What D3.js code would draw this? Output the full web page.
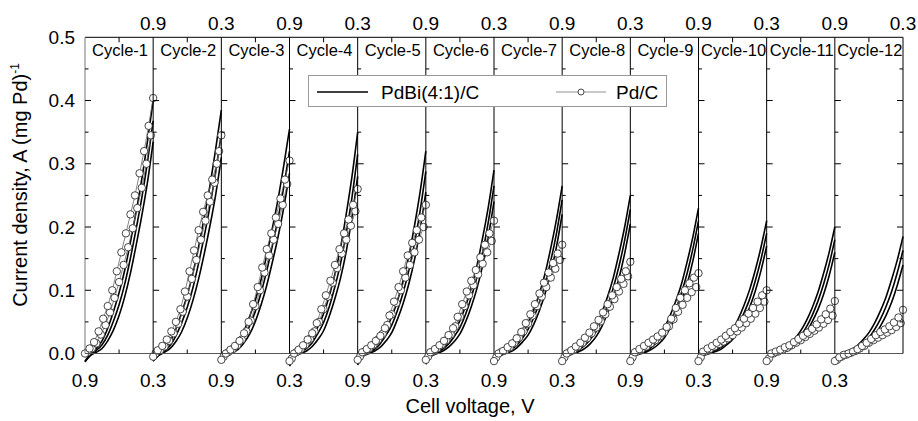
<!DOCTYPE html>
<html><head><meta charset="utf-8">
<script src="https://cdn.jsdelivr.net/npm/d3@7/dist/d3.min.js"></script>
<style>
body{margin:0;background:#fff;}
text{font-family:Arial,"Liberation Sans",sans-serif;fill:#000;}
</style></head>
<body><svg id="chart" width="918" height="421"></svg>
<script>
// ---------------- data ----------------
const cycles = ["Cycle-1","Cycle-2","Cycle-3","Cycle-4","Cycle-5","Cycle-6","Cycle-7","Cycle-8","Cycle-9","Cycle-10","Cycle-11","Cycle-12"];
const bottomTickLabels = ["0.9","0.3","0.9","0.3","0.9","0.3","0.9","0.3","0.9","0.3","0.9","0.3"]; // at panel boundaries 0..11
const topTickLabels    = ["0.9","0.3","0.9","0.3","0.9","0.3","0.9","0.3","0.9","0.3","0.9","0.3"]; // at panel boundaries 1..12
const yTickValues = [0.0,0.1,0.2,0.3,0.4,0.5];
const seriesNames = ["PdBi(4:1)/C","Pd/C"];

// PdBi(4:1)/C curves, voltages for each value
const pdbiVolts = [0.90,0.85,0.80,0.75,0.70,0.65,0.60,0.55,0.50,0.45,0.40,0.35,0.30];
const pdbiUpper = [
 [-0.012,0,0.008,0.020,0.040,0.066,0.096,0.132,0.176,0.224,0.276,0.336,0.400],
 [-0.012,0,0.008,0.019,0.039,0.064,0.092,0.127,0.169,0.216,0.266,0.323,0.385],
 [-0.011,0,0.007,0.018,0.036,0.059,0.085,0.117,0.156,0.199,0.245,0.298,0.355],
 [-0.018,0,0.005,0.012,0.025,0.042,0.063,0.091,0.126,0.168,0.221,0.280,0.350],
 [-0.016,0,0.005,0.011,0.022,0.038,0.058,0.083,0.115,0.154,0.202,0.256,0.320],
 [-0.015,0,0.004,0.010,0.020,0.035,0.052,0.075,0.104,0.139,0.183,0.232,0.290],
 [-0.013,0,0.004,0.009,0.019,0.032,0.048,0.069,0.095,0.127,0.167,0.212,0.265],
 [-0.013,0,0.004,0.009,0.018,0.030,0.045,0.065,0.090,0.120,0.158,0.200,0.250],
 [-0.012,0,0.003,0.008,0.016,0.028,0.041,0.060,0.083,0.110,0.145,0.184,0.230],
 [-0.011,0,0.003,0.007,0.015,0.025,0.038,0.055,0.076,0.101,0.132,0.168,0.210],
 [-0.010,0,0.003,0.007,0.014,0.024,0.036,0.052,0.072,0.096,0.126,0.160,0.200],
 [-0.009,0,0.003,0.006,0.013,0.022,0.033,0.048,0.067,0.089,0.117,0.148,0.185]
];
const pdbiMiddle = [
 [-0.013,-0.002,0.005,0.014,0.029,0.051,0.077,0.110,0.151,0.197,0.246,0.303,0.368],
 [-0.012,-0.002,0.004,0.013,0.028,0.048,0.073,0.104,0.143,0.186,0.233,0.287,0.348],
 [-0.011,-0.002,0.004,0.012,0.026,0.044,0.067,0.096,0.131,0.171,0.214,0.264,0.320],
 [-0.019,-0.002,0.002,0.008,0.017,0.032,0.049,0.074,0.106,0.143,0.191,0.247,0.315],
 [-0.017,-0.002,0.002,0.007,0.016,0.029,0.045,0.068,0.096,0.131,0.174,0.226,0.288],
 [-0.016,-0.002,0.002,0.007,0.015,0.027,0.041,0.062,0.089,0.121,0.160,0.208,0.265],
 [-0.015,-0.002,0.002,0.006,0.013,0.024,0.038,0.057,0.081,0.110,0.147,0.190,0.243],
 [-0.014,-0.002,0.002,0.006,0.013,0.023,0.035,0.053,0.076,0.104,0.138,0.179,0.228],
 [-0.013,-0.002,0.002,0.005,0.012,0.021,0.033,0.049,0.070,0.096,0.127,0.165,0.210],
 [-0.011,-0.001,0.001,0.005,0.010,0.019,0.029,0.045,0.064,0.086,0.115,0.149,0.190],
 [-0.011,-0.001,0.001,0.005,0.010,0.018,0.028,0.042,0.060,0.082,0.109,0.141,0.180],
 [-0.010,-0.001,0.001,0.004,0.009,0.016,0.025,0.038,0.054,0.074,0.098,0.128,0.163]
];
const pdbiLower = [
 [-0.013,-0.003,0.002,0.008,0.020,0.037,0.060,0.090,0.127,0.171,0.218,0.271,0.335],
 [-0.012,-0.003,0.002,0.008,0.019,0.034,0.056,0.084,0.118,0.158,0.202,0.251,0.310],
 [-0.011,-0.003,0.001,0.007,0.017,0.031,0.051,0.077,0.108,0.145,0.185,0.231,0.285],
 [-0.020,-0.004,0,0.004,0.011,0.022,0.036,0.059,0.087,0.120,0.162,0.216,0.280],
 [-0.018,-0.004,0,0.004,0.010,0.020,0.033,0.054,0.079,0.110,0.148,0.196,0.255],
 [-0.017,-0.004,0,0.004,0.010,0.019,0.031,0.050,0.074,0.103,0.139,0.185,0.240],
 [-0.015,-0.003,0,0.003,0.009,0.018,0.029,0.046,0.068,0.095,0.128,0.169,0.220],
 [-0.014,-0.003,0,0.003,0.008,0.016,0.027,0.043,0.064,0.088,0.119,0.158,0.205],
 [-0.013,-0.003,0,0.003,0.008,0.015,0.025,0.040,0.059,0.082,0.110,0.146,0.190],
 [-0.012,-0.003,0,0.003,0.007,0.014,0.022,0.036,0.053,0.073,0.099,0.131,0.170],
 [-0.011,-0.002,0,0.002,0.006,0.013,0.021,0.034,0.050,0.069,0.093,0.123,0.160],
 [-0.010,-0.002,0,0.002,0.006,0.011,0.018,0.029,0.043,0.060,0.081,0.108,0.140]
];

// Pd/C scans (open circles)
const pdcVoltsA = [0.90,0.86,0.82,0.78,0.74,0.70,0.66,0.62,0.58,0.54,0.50,0.46,0.42,0.38,0.34,0.30];
const pdcVoltsB = [0.88,0.84,0.80,0.76,0.72,0.68,0.64,0.60,0.56,0.52,0.48,0.44,0.40,0.36,0.32];
const pdcScanA = [
 [0.000,0.008,0.018,0.035,0.055,0.075,0.100,0.130,0.160,0.190,0.220,0.250,0.285,0.320,0.360,0.404],
 [-0.005,0.005,0.012,0.022,0.035,0.050,0.070,0.098,0.130,0.163,0.195,0.224,0.250,0.275,0.300,0.345],
 [-0.010,0.000,0.006,0.012,0.020,0.032,0.050,0.078,0.105,0.136,0.165,0.190,0.215,0.245,0.275,0.305],
 [-0.012,0.000,0.006,0.013,0.022,0.032,0.048,0.070,0.092,0.115,0.140,0.165,0.190,0.212,0.235,0.260],
 [-0.010,0.002,0.007,0.013,0.020,0.028,0.040,0.060,0.082,0.105,0.130,0.155,0.175,0.195,0.215,0.235],
 [-0.010,0.002,0.007,0.013,0.020,0.029,0.040,0.058,0.078,0.098,0.115,0.132,0.152,0.172,0.190,0.210],
 [-0.012,0.000,0.004,0.010,0.016,0.024,0.034,0.048,0.062,0.078,0.095,0.112,0.128,0.143,0.158,0.172],
 [-0.012,0.000,0.005,0.011,0.017,0.025,0.033,0.043,0.053,0.065,0.078,0.092,0.105,0.118,0.130,0.145],
 [-0.012,0.002,0.007,0.012,0.017,0.022,0.027,0.033,0.042,0.055,0.072,0.088,0.100,0.111,0.120,0.127],
 [-0.012,0.003,0.008,0.012,0.017,0.022,0.028,0.034,0.040,0.047,0.055,0.063,0.072,0.082,0.092,0.100],
 [-0.012,0.000,0.003,0.006,0.010,0.013,0.018,0.023,0.028,0.033,0.039,0.046,0.054,0.062,0.071,0.083],
 [-0.012,-0.006,-0.002,0.000,0.003,0.007,0.012,0.017,0.023,0.029,0.034,0.038,0.043,0.049,0.057,0.069]
];
const pdcScanB = [
 [0.002,0.008,0.016,0.030,0.045,0.065,0.088,0.113,0.140,0.168,0.198,0.230,0.262,0.300,0.345],
 [0.000,0.005,0.011,0.020,0.032,0.047,0.066,0.090,0.118,0.148,0.180,0.210,0.240,0.270,0.320],
 [-0.005,0.002,0.007,0.013,0.022,0.035,0.052,0.075,0.100,0.128,0.155,0.180,0.205,0.235,0.268],
 [-0.008,0.002,0.007,0.014,0.023,0.035,0.050,0.070,0.090,0.112,0.135,0.158,0.180,0.202,0.225],
 [-0.005,0.003,0.008,0.014,0.022,0.031,0.045,0.062,0.080,0.100,0.120,0.140,0.160,0.180,0.200],
 [-0.005,0.003,0.008,0.014,0.021,0.030,0.043,0.058,0.075,0.092,0.108,0.125,0.142,0.160,0.178],
 [-0.006,0.002,0.005,0.010,0.017,0.025,0.035,0.047,0.060,0.075,0.090,0.105,0.120,0.134,0.148],
 [-0.006,0.002,0.006,0.011,0.017,0.024,0.032,0.041,0.051,0.062,0.074,0.086,0.098,0.110,0.122],
 [-0.006,0.003,0.007,0.011,0.016,0.021,0.027,0.034,0.043,0.054,0.066,0.077,0.088,0.097,0.105],
 [-0.006,0.003,0.007,0.011,0.015,0.019,0.024,0.029,0.035,0.041,0.048,0.055,0.063,0.072,0.082],
 [-0.008,0.000,0.003,0.006,0.009,0.013,0.017,0.021,0.026,0.031,0.036,0.041,0.047,0.053,0.060],
 [-0.010,-0.005,-0.002,0.001,0.004,0.008,0.012,0.017,0.021,0.025,0.029,0.033,0.037,0.042,0.048]
];

// ---------------- drawing ----------------
const svg = d3.select("#chart");
const plotLeft = 85, plotRight = 903, plotTop = 37.3, plotBottom = 353.5;
const nPanels = cycles.length;

const panelX = d3.scaleLinear().domain([0, nPanels]).range([plotLeft, plotRight]);
const y = d3.scaleLinear().domain([0, 0.5]).range([plotBottom, plotTop]);
const xFor = i => d3.scaleLinear().domain([0.9, 0.3]).range([panelX(i), panelX(i + 1)]);

const gData = svg.append("g");
const lineGen = (xs) => d3.line().x(d => xs(d[0])).y(d => y(d[1])).curve(d3.curveMonotoneX);
const lineLin = (xs) => d3.line().x(d => xs(d[0])).y(d => y(d[1]));

cycles.forEach((c, i) => {
  const xs = xFor(i);
  const g = gData.append("g");
  [pdbiLower[i], pdbiMiddle[i], pdbiUpper[i]].forEach(vals => {
    const pts = pdbiVolts.map((v, k) => [v, vals[k]]);
    g.append("path").attr("d", lineGen(xs)(pts))
      .attr("fill", "none").attr("stroke", "#000").attr("stroke-width", 1.6);
  });
  [[pdcVoltsB, pdcScanB[i]], [pdcVoltsA, pdcScanA[i]]].forEach(([vs, vals]) => {
    const pts = vs.map((v, k) => [v, vals[k]]);
    g.append("path").attr("d", lineLin(xs)(pts))
      .attr("fill", "none").attr("stroke", "#666").attr("stroke-width", 0.8);
  });
  [[pdcVoltsB, pdcScanB[i]], [pdcVoltsA, pdcScanA[i]]].forEach(([vs, vals]) => {
    g.selectAll(null).data(vs.map((v, k) => [v, vals[k]])).enter()
      .append("circle").attr("cx", d => xs(d[0])).attr("cy", d => y(d[1])).attr("r", 3.7)
      .attr("fill", "#fff").attr("stroke", "#333").attr("stroke-width", 0.9);
  });
});

// frame / axes
const gAx = svg.append("g");
gAx.append("line").attr("x1", plotLeft).attr("x2", plotRight).attr("y1", plotTop).attr("y2", plotTop)
  .attr("stroke", "#000").attr("stroke-width", 1);
gAx.append("line").attr("x1", plotLeft).attr("x2", plotRight).attr("y1", plotBottom).attr("y2", plotBottom)
  .attr("stroke", "#555").attr("stroke-width", 1);
const yMinor = d3.range(0, 0.5001, 0.05);
for (let i = 0; i <= nPanels; i++) {
  const px = panelX(i);
  gAx.append("line").attr("x1", px).attr("x2", px).attr("y1", plotTop).attr("y2", plotBottom)
    .attr("stroke", i === 0 ? "#777" : "#000").attr("stroke-width", 1);
  const dir = i === nPanels ? -1 : 1;
  yMinor.forEach((v, k) => {
    const len = (k % 2 === 0) ? 6 : 3.5;
    if (k === 0 || k === yMinor.length - 1) return;
    gAx.append("line").attr("x1", px).attr("x2", px + dir * len)
      .attr("y1", y(v)).attr("y2", y(v)).attr("stroke", "#000").attr("stroke-width", 1);
  });
}
for (let i = 0; i < nPanels; i++) {
  const mx = xFor(i)(0.6);
  gAx.append("line").attr("x1", mx).attr("x2", mx).attr("y1", plotBottom).attr("y2", plotBottom - 4)
    .attr("stroke", "#000");
  gAx.append("line").attr("x1", mx).attr("x2", mx).attr("y1", plotTop).attr("y2", plotTop + 5)
    .attr("stroke", "#000");
}

const yAxis = d3.axisLeft(y).tickValues(yTickValues).tickFormat(d3.format(".1f")).tickSize(0).tickPadding(10);
const gy = svg.append("g").attr("transform", `translate(${plotLeft},0)`).call(yAxis);
gy.select(".domain").remove();
gy.selectAll("text").attr("font-size", 19).attr("font-family", "Arial, 'Liberation Sans', sans-serif").attr("fill", "#000");

svg.append("g").selectAll("text").data(bottomTickLabels).enter().append("text")
  .attr("x", (d, i) => panelX(i)).attr("y", 387).attr("text-anchor", "middle").attr("font-size", 19).text(d => d);
svg.append("g").selectAll("text").data(topTickLabels).enter().append("text")
  .attr("x", (d, i) => panelX(i + 1)).attr("y", 30).attr("text-anchor", "middle").attr("font-size", 19).text(d => d);

svg.append("g").selectAll("text").data(cycles).enter().append("text")
  .attr("x", (d, i) => (panelX(i) + panelX(i + 1)) / 2 + 1).attr("y", 55.5)
  .attr("text-anchor", "middle").attr("font-size", 16.5).text(d => d);

svg.append("text").attr("x", 470).attr("y", 413).attr("text-anchor", "middle").attr("font-size", 20)
  .text("Cell voltage, V");
const yt = svg.append("text").attr("transform", "translate(27,185) rotate(-90)").attr("text-anchor", "middle").attr("font-size", 20);
yt.append("tspan").text("Current density, A (mg Pd)");
yt.append("tspan").attr("dy", -8).attr("font-size", 12).text("-1");

const lg = svg.append("g");
lg.append("rect").attr("x", 308.5).attr("y", 75.5).attr("width", 358).attr("height", 31)
  .attr("fill", "#fff").attr("stroke", "#999").attr("stroke-width", 1);
lg.append("line").attr("x1", 317).attr("x2", 368).attr("y1", 92).attr("y2", 92).attr("stroke", "#000").attr("stroke-width", 1.5);
lg.append("text").attr("x", 381).attr("y", 98.5).attr("font-size", 19).text(seriesNames[0]);
lg.append("line").attr("x1", 556).attr("x2", 606).attr("y1", 92).attr("y2", 92).attr("stroke", "#777").attr("stroke-width", 0.8);
lg.append("circle").attr("cx", 581).attr("cy", 92).attr("r", 3).attr("fill", "#fff").attr("stroke", "#333").attr("stroke-width", 0.9);
lg.append("text").attr("x", 616).attr("y", 98.5).attr("font-size", 19).text(seriesNames[1]);
</script></body></html>
